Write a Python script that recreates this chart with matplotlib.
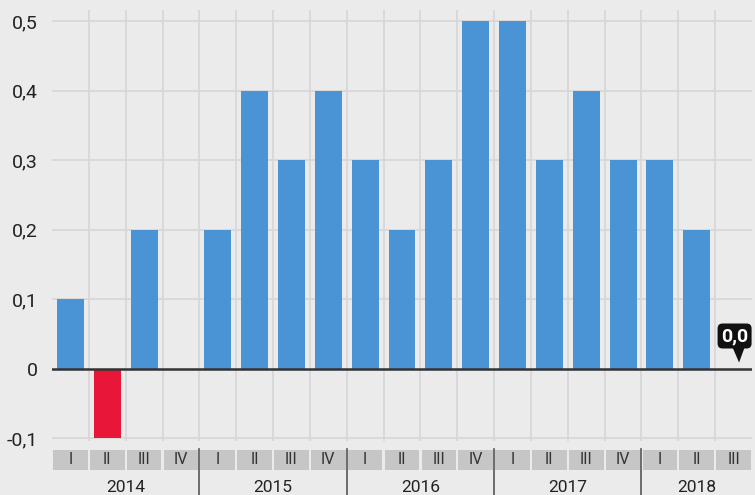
import matplotlib
matplotlib.use("Agg")
import matplotlib.pyplot as plt
from matplotlib.transforms import blended_transform_factory, IdentityTransform
from matplotlib.patches import Rectangle, FancyBboxPatch, Polygon
import numpy as np

plt.rcParams['font.family'] = ['Roboto', 'DejaVu Sans']

years = ["2014", "2015", "2016", "2017", "2018"]
quarters = ["I", "II", "III", "IV", "I", "II", "III", "IV", "I", "II", "III", "IV",
            "I", "II", "III", "IV", "I", "II", "III"]
quarters_per_year = [4, 4, 4, 4, 3]
values = [0.1, -0.1, 0.2, 0.0, 0.2, 0.4, 0.3, 0.4, 0.3, 0.2, 0.3, 0.5,
          0.5, 0.3, 0.4, 0.3, 0.3, 0.2, 0.0]
yticks = [-0.1, 0, 0.1, 0.2, 0.3, 0.4, 0.5]
ytick_labels = ["-0,1", "0", "0,1", "0,2", "0,3", "0,4", "0,5"]
last_label = "0,0"

BG = "#ebebeb"
GRID = "#d6d6d6"
BLUE = "#4a93d4"
RED = "#e8173a"
TEXT = "#222222"

W, H = 755, 495
fig = plt.figure(figsize=(W / 100, H / 100), dpi=100, facecolor=BG)

# axes placed in pixel units
left_px, right_px, top_px, bot_px = 52, 752, 10, 441
ax = fig.add_axes([left_px / W, 1 - bot_px / H, (right_px - left_px) / W, (bot_px - top_px) / H])
ax.set_facecolor(BG)
px_per_unit = (438 - 21) / 0.6
ax.set_ylim(-0.1 - (bot_px - 438) / px_per_unit, 0.5 + (21 - top_px) / px_per_unit)
n = len(values)
ax.set_xlim(-0.5, n - 0.5)

for s in ax.spines.values():
    s.set_visible(False)
ax.tick_params(left=False, bottom=False, labelbottom=False)
ax.set_yticks(yticks)
ax.set_yticklabels(ytick_labels, fontsize=14, color=TEXT)
ax.tick_params(axis='y', pad=7)

# grid
for y in yticks:
    if y != 0:
        ax.axhline(y, color=GRID, lw=1.2, zorder=0)
for i in range(n - 1):
    ax.axvline(i + 0.5, color=GRID, lw=1.2, zorder=0)

x = np.arange(n)
colors = [RED if v < 0 else BLUE for v in values]
ax.bar(x, values, width=0.73, color=colors, zorder=2)
ax.axhline(0, color="#333333", lw=1.8, zorder=3)

# quarter label boxes below the plot
trans = blended_transform_factory(ax.transData, fig.transFigure)
box_y0 = 1 - 470 / H
box_h = 20 / H
for i, q in enumerate(quarters):
    r = Rectangle((i - 0.47, box_y0), 0.94, box_h, transform=trans,
                  facecolor="#c6c6c6", edgecolor="none", clip_on=False)
    fig.add_artist(r)
    fig.text(i, box_y0 + box_h / 2, q, transform=trans, ha="center", va="center",
             fontsize=11.5, color="#333333")

# year separators and year labels
start = 0
for k, (yr, cnt) in enumerate(zip(years, quarters_per_year)):
    center = start + (cnt - 1) / 2
    fig.text(center, 1 - 488 / H, yr, transform=trans, ha="center", va="center",
             fontsize=12.5, color=TEXT)
    if k > 0:
        fig.add_artist(plt.Line2D([start - 0.5, start - 0.5], [0, 1 - 449 / H],
                                  transform=trans, color="#555555", lw=1.2))
    start += cnt

# callout for the last value, offsets in pixels from the bar's base
fig.canvas.draw()
ax_px, ay_px = ax.transData.transform((n - 1, values[-1]))
ident = IdentityTransform()
bub = FancyBboxPatch((ax_px - 16, ay_px + 20), 34, 25,
                     boxstyle="round,pad=0,rounding_size=5",
                     facecolor="#111111", edgecolor="none", zorder=5,
                     transform=ident, clip_on=False)
fig.add_artist(bub)
tri = Polygon([[ax_px - 1, ay_px + 21], [ax_px + 11, ay_px + 21],
               [ax_px + 5.5, ay_px + 6]], closed=True,
              facecolor="#111111", edgecolor="none", zorder=5,
              transform=ident, clip_on=False)
fig.add_artist(tri)
fig.text(ax_px + 1, ay_px + 32.5, last_label, transform=ident, ha="center", va="center",
         color="white", fontsize=14, fontweight="bold", zorder=6)

fig.savefig("out.png", dpi=100, facecolor=BG)
